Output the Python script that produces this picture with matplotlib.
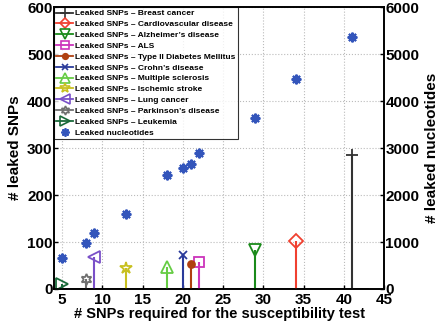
import matplotlib
matplotlib.use("Agg")
import matplotlib.pyplot as plt
from matplotlib.lines import Line2D

plt.rcParams['font.family'] = ['Liberation Sans', 'DejaVu Sans']
plt.rcParams['font.weight'] = 'bold'

# leaked SNPs per disease (x = # SNPs required, y = # leaked SNPs)
diseases = ["Breast cancer", "Cardiovascular disease", "Alzheimer\u2019s disease", "ALS",
            "Type II Diabetes Mellitus", "Crohn\u2019s disease", "Multiple sclerosis",
            "Ischemic stroke", "Lung cancer", "Parkinson\u2019s disease", "Leukemia"]
snps_required = [41, 34, 29, 22, 21, 20, 18, 13, 9, 8, 5]
leaked_snps = [285, 103, 83, 57, 53, 72, 47, 44, 68, 22, 10]

# leaked nucleotides (right axis)
nuc_x = [5, 8, 9, 13, 18, 20, 21, 22, 29, 34, 41]
nuc_y = [650, 980, 1190, 1590, 2420, 2570, 2660, 2900, 3630, 4470, 5360]

colors = ["#333333", "#f04030", "#1a8a1a", "#cc33bb", "#b04010", "#2a3a9a",
          "#66cc44", "#c8c020", "#7a50c8", "#707070", "#1a6a3a"]
markers = ["+", "D", "v", "s", "o", "x", "^", "*", "<", (6, 1, 0), ">"]
msizes = [9, 7, 9, 7, 5, 6, 9, 9, 9, 8, 9]
filled = [True, False, False, False, True, True, False, False, False, False, False]
nuc_color = "#3355bb"

fig = plt.figure(figsize=(4.41, 3.22), dpi=100)
ax = fig.add_axes([0.1224, 0.1025, 0.7486, 0.8755])
ax2 = ax.twinx()

handles = []
for i in range(len(diseases)):
    x, y, c = snps_required[i], leaked_snps[i], colors[i]
    ax.vlines(x, 0, y, color=c, lw=1.5, zorder=3)
    fc = c if filled[i] else 'none'
    ax.plot([x], [y], linestyle='none', marker=markers[i], ms=msizes[i],
            mec=c, mfc=fc, mew=1.3, zorder=4)
    handles.append(Line2D([0], [0], color=c, lw=1.3, marker=markers[i],
                          ms=msizes[i] * 0.8, mec=c, mfc=fc, mew=1.2,
                          label="Leaked SNPs \u2013 " + diseases[i]))

ax.axhline(0, color="#444444", lw=1.2, xmax=0.95, zorder=2)

ax2.plot(nuc_x, nuc_y, linestyle='none', marker=(8, 2, 0), ms=7,
         mec=nuc_color, mew=1.5, color=nuc_color)
handles.append(Line2D([0], [0], linestyle='none', marker=(8, 2, 0), ms=6,
                      mec=nuc_color, mew=1.3, label="Leaked nucleotides"))

ax.set_xlim(4, 45)
ax.set_ylim(0, 600)
ax2.set_ylim(0, 6000)
ax.set_xticks(range(5, 46, 5))
ax.set_yticks(range(0, 601, 100))
ax2.set_yticks(range(0, 6001, 1000))
ax.grid(True, linestyle=':', color='#bbbbbb', lw=0.8)
ax.set_axisbelow(True)

for a in (ax, ax2):
    a.tick_params(labelsize=11, width=1, length=3, direction='in', pad=1)
    for sp in a.spines.values():
        sp.set_linewidth(1.2)
ax.tick_params(axis='x', pad=3)

ax.set_xlabel("# SNPs required for the susceptibility test", fontsize=10.5,
              fontweight='bold', labelpad=0)
ax.set_ylabel("# leaked SNPs", fontsize=11, fontweight='bold', labelpad=4)
ax2.set_ylabel("# leaked nucleotides", fontsize=11, fontweight='bold', labelpad=4)

leg = ax.legend(handles=handles, loc='upper left', frameon=True,
                fancybox=False, edgecolor='black', borderpad=0.3, labelspacing=0.36,
                handlelength=2.0, handletextpad=0.2, borderaxespad=0.0,
                prop={'weight': 'bold', 'size': 6})
leg.get_frame().set_linewidth(0.8)
leg.set_zorder(10)

fig.savefig("out.png", dpi=100)
